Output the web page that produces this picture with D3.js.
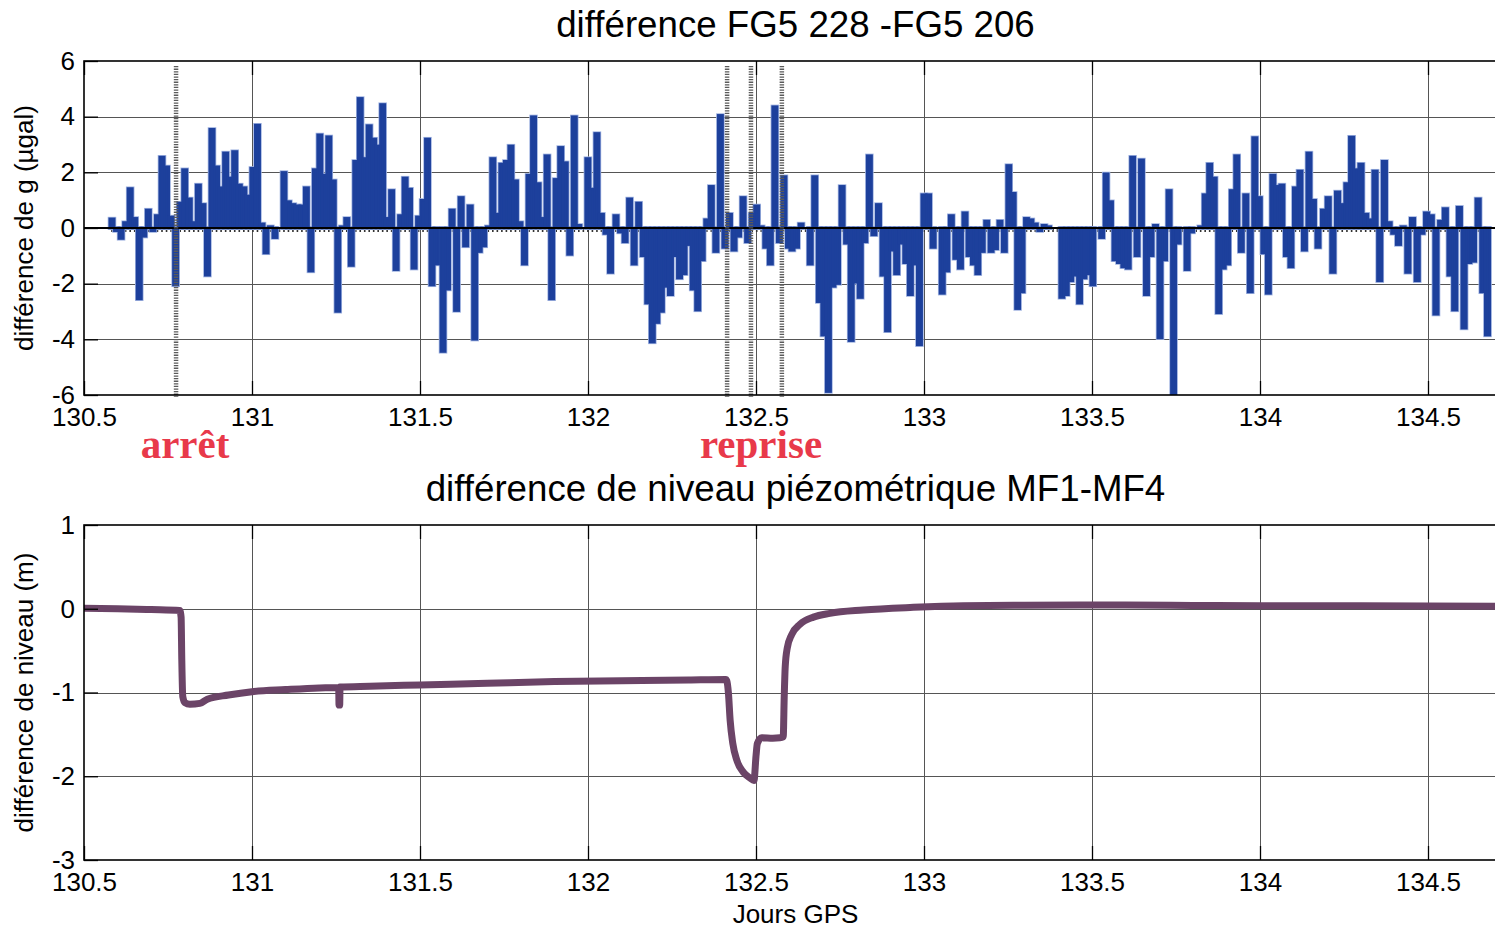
<!DOCTYPE html>
<html>
<head>
<meta charset="utf-8">
<script src="https://cdn.jsdelivr.net/npm/d3@7"></script>
<style>
  body { margin: 0; background: #fff; }
  svg { display: block; }
</style>
</head>
<body>
<svg id="chart" width="1495" height="930"></svg>
<script>
// ---- gravity difference FG5 228 - FG5 206 (µgal), runs of evenly spaced drop sets ----
const gRunSpans = [
  [130.5833, 131.0298], [131.0417, 131.5491], [131.5685, 132.0670], [132.0833, 132.5967],
  [132.6071, 133.1220], [133.1339, 133.6473], [133.6622, 134.1726], [134.1890, 134.6771]
];
const gRun1 = [0.33, -0.1, -0.38, 0.2, 1.42, 0.35, -2.55, -0.3, 0.65, -0.1, 0.45, 2.55, 2.2, 0.4, -2.05, 0.9, 2.1,
  1.05, 0.2, 1.55, 0.85, -1.7, 3.55, 2.2, 1.45, 2.7, 1.8, 2.75, 1.55, 1.45, 1.15, 2.15, 3.7, 0.15];
const gRun2 = [-0.9, 0.05, -0.35, 0.0, 2.0, 0.95, 0.85, 0.8, 0.8, 1.45, -1.55, 2.1, 3.35, 1.9, 3.28, 1.7, -3.0, 0.05,
  0.35, -1.35, 2.4, 4.66, 2.5, 3.68, 3.2, 2.95, 4.44, 0.35, 1.35, -1.5, 0.45, 1.8, 1.4, -1.45, 0.4, 1.0, 3.2, -2.05, -1.3];
const gRun3 = [-4.44, -2.2, 0.65, -2.97, 1.1, -0.65, 0.8, -4.0, -0.85, -0.65, 0.05, 2.5, 0.5, 2.3, 2.4, 2.95, 1.7, 0.2,
  -1.3, 1.9, 4.0, 1.6, 0.35, 2.6, -2.55, 1.75, 2.9, 2.35, -0.95, 4.0, 0.1, 0.0, 2.5, 1.4, 3.4, 0.5, -0.2, -1.6];
const gRun4 = [0.45, -0.15, -0.5, 1.05, -1.3, 0.9, -1.0, -2.7, -4.1, -3.4, -3.0, -2.1, -2.4, -1.0, -1.8, -1.65, -0.6,
  -2.2, -2.95, -1.15, 0.3, 1.5, -0.85, 4.05, -0.7, 0.5, -0.8, -0.3, 1.1, -0.5, 0.5, 0.8, 0.05, -0.7, -1.3, 4.36, -0.5, 1.85, -0.7];
const gRun5 = [-0.8, -0.7, 0.15, 0.0, -1.3, 1.85, -2.65, -3.85, -5.88, -2.1, -2.0, 1.5, -0.55, -4.05, -1.95, -2.5, -0.5,
  2.6, -0.25, 0.85, -1.7, -3.7, -0.8, -1.65, -0.55, -1.25, -2.4, -1.3, -4.2, 1.2, 1.2, -0.7, 0.0, -2.35, -1.55, 0.45, -1.1, -1.45, 0.55];
const gRun6 = [-1.0, -1.3, -1.65, -0.85, 0.25, -0.85, -0.75, 0.25, -0.85, 2.25, 1.25, -2.9, -2.3, 0.35, 0.3, 0.15, -0.1,
  0.1, 0.05, 0.0, 0.0, -2.5, -2.4, -1.9, -1.7, -2.7, -1.8, -1.65, -2.05, 0.0, -0.35, 1.95, 0.95, -1.15, -1.25, -1.4, -1.45, 2.55, -1.0, 2.45];
const gRun7 = [-2.4, -1.0, 0.1, -3.95, -1.15, 1.35, -6.0, -0.55, 0.0, -1.5, -0.15, 0.0, 0.05, 1.2, 2.3, 1.8, -3.05, -1.45,
  -1.3, 1.35, 2.6, -0.85, 1.2, -2.3, 3.25, 1.1, -0.9, -2.35, 1.9, 1.5, 1.55, -1.0, -1.4, 1.45, 2.05, -0.8, 2.7, 1.0, -0.7];
const gRun8 = [0.65, 1.1, -1.6, 1.3, 0.85, 1.6, 3.27, 2.1, 2.3, 0.5, 0.3, 2.05, -1.9, 2.4, 0.2, -0.2, -0.6, 0.05, -1.6,
  0.35, -1.9, -0.2, 0.55, 0.45, -3.1, 0.25, 0.7, -1.7, -2.95, 0.75, -3.6, -1.25, -1.2, 1.05, -2.3, -3.85];
const gRuns = [gRun1, gRun2, gRun3, gRun4, gRun5, gRun6, gRun7, gRun8];

// pump stop / restart markers (GPS day)
const eventDays = [130.774, 132.414, 132.485, 132.577];

// ---- piezometric level difference MF1 - MF4 (m) ----
const levelDays = [130.5, 130.6, 130.7, 130.785, 130.789, 130.791, 130.794, 130.8, 130.815, 130.845, 130.867, 130.93,
  131.0, 131.1, 131.2, 131.258, 131.259, 131.261, 131.262, 131.35, 131.5, 131.7, 131.9, 132.1, 132.3, 132.41,
  132.413, 132.418, 132.423, 132.431, 132.443, 132.462, 132.482, 132.494, 132.5, 132.504, 132.517, 132.55, 132.571,
  132.581, 132.584, 132.587, 132.593, 132.606, 132.631, 132.671, 132.72, 132.819, 132.968, 133.117, 133.3, 133.464,
  133.6, 133.8, 134.0, 134.3, 134.735];
const levelValues = [0.005, 0.0, -0.01, -0.02, -0.1, -0.6, -1.05, -1.12, -1.14, -1.13, -1.08, -1.03,
  -0.99, -0.965, -0.945, -0.94, -1.15, -1.15, -0.935, -0.925, -0.91, -0.89, -0.87, -0.86, -0.85, -0.845,
  -0.86, -1.01, -1.33, -1.61, -1.81, -1.95, -2.02, -2.05, -1.76, -1.61, -1.54, -1.545, -1.54,
  -1.53, -1.05, -0.69, -0.47, -0.31, -0.185, -0.10, -0.055, -0.015, 0.017, 0.037, 0.043, 0.045,
  0.045, 0.04, 0.035, 0.035, 0.03];

// ---- axes ----
const dayTicks = [130.5, 131, 131.5, 132, 132.5, 133, 133.5, 134, 134.5];
const gTicks = [-6, -4, -2, 0, 2, 4, 6];
const levelTicks = [-3, -2, -1, 0, 1];

const FONT = "'Liberation Sans', Arial, Helvetica, sans-serif";
const SERIF = "'Liberation Serif', 'Times New Roman', serif";
const svg = d3.select('#chart');

const left = 84, right = 1507;
const x = d3.scaleLinear().domain([130.5, 130.5 + (right - left) / 336]).range([left, right]);

function drawGrid(g, y, yTop, yBottom, yTicks) {
  const grid = g.append('g').attr('stroke', '#555').attr('stroke-width', 1).attr('shape-rendering', 'crispEdges');
  grid.selectAll('.vx').data(dayTicks.slice(1)).join('line')
    .attr('x1', d => Math.round(x(d)) + 0.5).attr('x2', d => Math.round(x(d)) + 0.5)
    .attr('y1', yTop).attr('y2', yBottom);
  grid.selectAll('.hy').data(yTicks.slice(1, -1)).join('line')
    .attr('x1', left).attr('x2', right)
    .attr('y1', d => Math.round(y(d)) + 0.5).attr('y2', d => Math.round(y(d)) + 0.5);
}

function drawAxes(g, y, yTop, yBottom, yTicks) {
  const ax = g.append('g').attr('transform', `translate(0,${yBottom})`)
    .call(d3.axisBottom(x).tickValues(dayTicks).tickSize(-14).tickPadding(13).tickFormat(d => String(d)));
  const axTop = g.append('g').attr('transform', `translate(0,${yTop})`)
    .call(d3.axisTop(x).tickValues(dayTicks).tickSize(-14).tickFormat(''));
  const ay = g.append('g').attr('transform', `translate(${left},0)`)
    .call(d3.axisLeft(y).tickValues(yTicks).tickSize(-14).tickPadding(9).tickFormat(d => String(d)));
  [ax, axTop, ay].forEach(a => {
    a.select('.domain').remove();
    a.selectAll('line').attr('stroke', '#000').attr('stroke-width', 1.3);
    a.selectAll('text').attr('font-family', FONT).attr('font-size', 26).attr('fill', '#000');
  });
  g.append('rect').attr('x', left).attr('y', yTop).attr('width', right - left).attr('height', yBottom - yTop)
    .attr('fill', 'none').attr('stroke', '#000').attr('stroke-width', 1.6);
}

// ================= upper panel: gravity differences =================
const gTop = 61, gBottom = 395;
const yG = d3.scaleLinear().domain([-6, 6]).range([gBottom, gTop]);
const gPanel = svg.append('g');
drawGrid(gPanel, yG, gTop, gBottom, gTicks);

svg.append('clipPath').attr('id', 'clipG').append('rect')
  .attr('x', left).attr('y', gTop).attr('width', right - left).attr('height', gBottom - gTop);

const bars = [];
gRuns.forEach((vals, k) => {
  const [t0, t1] = gRunSpans[k];
  const step = (t1 - t0) / (vals.length - 1);
  vals.forEach((v, i) => bars.push({ t: t0 + i * step, v, step }));
});

const barLayer = gPanel.append('g').attr('clip-path', 'url(#clipG)');
const y0 = yG(0);
const barRect = sel => sel
  .attr('x', d => x(d.t - d.step / 2))
  .attr('width', d => x(d.t + d.step / 2) - x(d.t - d.step / 2))
  .attr('y', d => Math.min(yG(d.v), y0))
  .attr('height', d => Math.abs(yG(d.v) - y0));

// little baseline markers under every drop set
barLayer.selectAll('.mk').data(bars).join('rect')
  .attr('x', d => x(d.t) - 0.8).attr('y', y0).attr('width', 1.6).attr('height', 4).attr('fill', '#333');
// soft halo then solid bars
barLayer.selectAll('.halo').data(bars).join('rect').call(barRect)
  .attr('fill', '#9fb2e0').attr('stroke', '#9fb2e0').attr('stroke-width', 4);
barLayer.selectAll('.bar').data(bars).join('rect').call(barRect)
  .attr('fill', '#1d409c').attr('stroke', '#1d409c').attr('stroke-width', 2.4);
// zero line
barLayer.append('line').attr('x1', left).attr('x2', right).attr('y1', y0).attr('y2', y0)
  .attr('stroke', '#000').attr('stroke-width', 1.8);

// event markers
gPanel.selectAll('.ev').data(eventDays).join('line')
  .attr('x1', d => x(d)).attr('x2', d => x(d))
  .attr('y1', 66).attr('y2', 397)
  .attr('stroke', '#5a5a5a').attr('stroke-width', 4.5).attr('stroke-dasharray', '1.3,1.3');

drawAxes(gPanel, yG, gTop, gBottom, gTicks);

gPanel.append('text').attr('x', 795.5).attr('y', 37).attr('text-anchor', 'middle')
  .attr('font-family', FONT).attr('font-size', 36.7).text('différence FG5 228 -FG5 206');
gPanel.append('text').attr('transform', `translate(33,${(gTop + gBottom) / 2}) rotate(-90)`)
  .attr('text-anchor', 'middle').attr('font-family', FONT).attr('font-size', 26)
  .text('différence de g (µgal)');

// annotations
svg.append('text').attr('x', 185).attr('y', 458).attr('text-anchor', 'middle')
  .attr('font-family', SERIF).attr('font-weight', 'bold').attr('font-size', 41).attr('fill', '#e8394a').text('arrêt');
svg.append('text').attr('x', 761).attr('y', 458).attr('text-anchor', 'middle')
  .attr('font-family', SERIF).attr('font-weight', 'bold').attr('font-size', 41).attr('fill', '#e8394a').text('reprise');

// ================= lower panel: piezometric level =================
const lTop = 525, lBottom = 860;
const yL = d3.scaleLinear().domain([-3, 1]).range([lBottom, lTop]);
const lPanel = svg.append('g');
drawGrid(lPanel, yL, lTop, lBottom, levelTicks);

svg.append('clipPath').attr('id', 'clipL').append('rect')
  .attr('x', left).attr('y', lTop).attr('width', right - left).attr('height', lBottom - lTop);

const levelData = levelDays.map((d, i) => [d, levelValues[i]]);
lPanel.append('path').attr('clip-path', 'url(#clipL)')
  .datum(levelData)
  .attr('d', d3.line().curve(d3.curveMonotoneX).x(d => x(d[0])).y(d => yL(d[1])))
  .attr('fill', 'none').attr('stroke', '#6b4467').attr('stroke-width', 7)
  .attr('stroke-linejoin', 'round').attr('stroke-linecap', 'butt');

drawAxes(lPanel, yL, lTop, lBottom, levelTicks);

lPanel.append('text').attr('x', 795.5).attr('y', 501).attr('text-anchor', 'middle')
  .attr('font-family', FONT).attr('font-size', 36.7).text('différence de niveau piézométrique MF1-MF4');
lPanel.append('text').attr('transform', `translate(33,${(lTop + lBottom) / 2}) rotate(-90)`)
  .attr('text-anchor', 'middle').attr('font-family', FONT).attr('font-size', 26)
  .text('différence de niveau (m)');
lPanel.append('text').attr('x', 795.5).attr('y', 923).attr('text-anchor', 'middle')
  .attr('font-family', FONT).attr('font-size', 26).text('Jours GPS');
</script>
</body>
</html>
